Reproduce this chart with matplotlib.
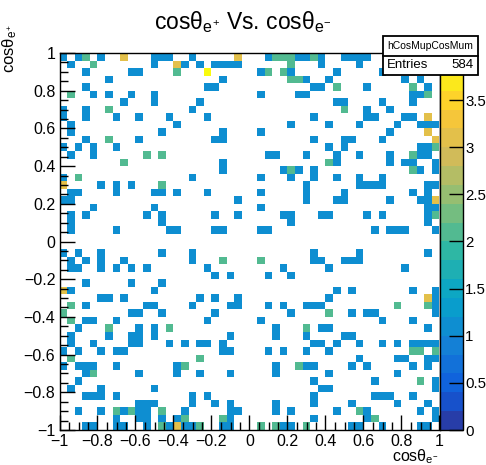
import numpy as np
import matplotlib
matplotlib.use("Agg")
import matplotlib.pyplot as plt
from matplotlib.colors import ListedColormap, BoundaryNorm, LinearSegmentedColormap
from matplotlib.patches import Rectangle
from matplotlib.lines import Line2D
import matplotlib.cm as cm

plt.rcParams['font.family'] = ['Liberation Sans', 'DejaVu Sans']
plt.rcParams['mathtext.fontset'] = 'custom'
plt.rcParams['mathtext.rm'] = 'Liberation Sans'
plt.rcParams['mathtext.it'] = 'Liberation Sans'
plt.rcParams['mathtext.bf'] = 'Liberation Sans:bold'

# ---------------- data ----------------
N_BINS = 50
X_RANGE = (-1.0, 1.0)
Y_RANGE = (-1.0, 1.0)
HIST_NAME = "hCosMupCosMum"
ENTRIES = 584
Z_MAX = 4.0
N_CONTOURS = 20
TITLE = "cosθ$_{e^{+}}$ Vs. cosθ$_{e^{-}}$"
X_TITLE = "cosθ$_{e^{-}}$"
Y_TITLE = "cosθ$_{e^{+}}$"
AXIS_TICKS = [-1, -0.8, -0.6, -0.4, -0.2, 0, 0.2, 0.4, 0.6, 0.8, 1]
AXIS_TICK_LABELS = ["\u22121", "\u22120.8", "\u22120.6", "\u22120.4", "\u22120.2", "0",
                    "0.2", "0.4", "0.6", "0.8", "1"]
Z_TICKS = [0, 0.5, 1, 1.5, 2, 2.5, 3, 3.5]
Z_TICK_LABELS = ["0", "0.5", "1", "1.5", "2", "2.5", "3", "3.5"]

# bin contents, one string per y-row from the top row (y bin 49) down; "xbin:count"
ROWS = [
    "0:1 2:1 3:2 5:1 8:3 12:1 13:1 14:1 17:1 23:3 27:1 28:2 29:2 30:2 31:1 32:1 33:2 34:1 37:1 38:1 39:1 40:1",
    "1:1 4:2 12:1 15:3 16:1 18:1 20:1 21:1 22:1 23:1 30:2 34:1 39:1",
    "3:1 9:1 10:1 15:2 19:4 26:1 27:2 29:2 30:1 36:1 42:1",
    "6:1 21:1 30:2 31:2 32:1 35:1 45:1 47:1",
    "3:1 19:1 20:1 33:1 34:1 36:2 40:1 46:2 48:1",
    "1:2 4:1 6:1 9:1 12:1 26:1 31:1 32:1 46:1 47:1 48:2",
    "8:1 12:1 18:1 36:1 37:1 42:1 46:1",
    "0:1 3:1 6:2 17:1 37:2 40:1 43:1",
    "0:1 3:1 7:1 10:1 14:1 19:1 33:1 40:1 41:1 45:1 46:1 48:3",
    "1:1 15:1 30:1 35:1 39:1 44:1 47:1 48:1 49:1",
    "1:1 13:1 21:1 26:1 43:1 48:3",
    "3:1 6:2 10:1 20:1 21:1 33:1 37:1 38:1 42:1 49:3",
    "0:1 2:1 4:1 7:1 35:1 37:1 47:1 48:1 49:2",
    "1:1 4:1 11:2 13:2 27:1 28:1 32:1 36:1 39:1 43:1 46:2 47:1 48:1",
    "8:2 21:1 35:2 36:1 43:1 45:1 46:1 49:1",
    "21:1 29:1 30:2 31:1 33:1 46:2 47:1 49:1",
    "0:1 2:2 17:1 26:1 30:1 33:1 36:1 39:1 42:1",
    "0:3 5:1 7:1 9:1 13:2 32:1 39:1 40:1 41:1 42:1 48:1 49:1",
    "1:1 2:1 7:1 12:1 13:1 15:1 19:1 26:1 32:1 37:1 46:1 48:1",
    "0:1 1:1 23:1 32:1 36:1 37:1 43:1 47:1 48:1 49:3",
    "4:1 12:1 26:1 48:1 49:1",
    "1:1 3:1 11:1 13:1 20:1 23:1 29:1 30:1 34:1 35:1 40:1 42:1 48:1 49:2",
    "1:1 13:1 30:1 48:1",
    "1:1 7:1 14:1 15:1 20:1 21:1 26:1 27:1 41:1 43:1 44:1 45:1 49:1",
    "",
    "",
    "0:1 2:1 5:1 13:1 17:1 33:1 39:1 48:1",
    "1:1 3:1 5:1 8:1 17:1 21:2 26:2 33:1 34:1 37:1 38:1 39:1",
    "1:1 2:1 5:1 7:1 9:1 11:1 19:1 29:1 35:1 45:1",
    "20:1 22:1 27:1 30:1",
    "3:1 9:1 13:1",
    "0:3 1:1 12:1 36:1 38:1 46:1 49:1",
    "5:1 6:1 8:1 18:1 20:1 23:1 35:1 48:3 49:1",
    "1:2 3:1 11:1 12:1 17:1 22:1 23:1 27:1 29:1 32:1 33:1 34:1 44:2 48:2 49:1",
    "0:2 9:1 10:1 13:1 20:1 30:1 35:2 38:1 40:1 41:1 49:1",
    "1:2 3:1 4:1 7:1 19:1 26:1 42:1 46:1",
    "2:1 6:2 10:1 12:1 14:2 28:1 32:2 34:1 35:1 48:1",
    "1:1 6:1 9:1 10:1 12:1 22:1 28:1 32:1 37:1 38:1",
    "1:1 4:1 9:1 10:1 14:1 16:1 18:1 19:1 21:1 33:1 34:1 36:1 39:1 42:1 44:1 46:1 47:1 48:1 49:1",
    "0:1 2:1 5:1 7:1 8:1 21:1 22:1 27:1 29:1 32:1 35:1 46:2 47:2 49:2",
    "1:2 18:2 39:1 44:1 45:1 48:1 49:1",
    "0:1 2:1 3:1 4:1 7:1 15:1 16:2 28:1 31:2 32:1 33:1 38:1 40:1 46:1 48:1",
    "3:1 4:2 10:1 15:1 18:1 22:1 28:1 35:1 44:1",
    "2:1 33:1 41:1 47:2 49:1",
    "1:1 5:1 12:1 34:1 35:1 49:1",
    "3:1 4:1 5:1 7:1 17:1 19:1 33:1 41:1 42:1 43:1 46:1",
    "10:1 11:1 12:1 17:1 20:1 22:1 28:1 33:1 38:1 44:1 48:1",
    "2:1 5:1 7:2 8:1 9:2 10:1 11:1 13:2 16:1 22:1 23:1 28:1 30:1 36:1 39:2 40:1 47:1 49:1",
    "7:1 10:1 11:1 13:1 15:1 16:2 21:2 22:1 33:1 40:1 41:2 49:1",
    "3:1 4:1 7:1 8:1 11:1 13:2 14:1 15:3 16:1 17:1 18:2 21:1 22:1 26:2 28:2 29:1 30:1 32:2 38:1 39:1 42:1 47:1 48:1",
]

counts = np.zeros((N_BINS, N_BINS))
for j, row in enumerate(ROWS):
    for tok in row.split():
        c, v = tok.split(":")
        counts[N_BINS - 1 - j, int(c)] = float(v)

# ---------------- ROOT kBird palette ----------------
stops = [0.0, 0.125, 0.25, 0.375, 0.5, 0.625, 0.75, 0.875, 1.0]
red = [0.2082, 0.0592, 0.0780, 0.0232, 0.1802, 0.5301, 0.8186, 0.9956, 0.9764]
green = [0.1664, 0.3599, 0.5041, 0.6419, 0.7178, 0.7492, 0.7328, 0.7862, 0.9832]
blue = [0.5293, 0.8684, 0.8385, 0.7914, 0.6425, 0.4662, 0.3499, 0.1968, 0.0539]
bird = LinearSegmentedColormap.from_list(
    "bird", list(zip(stops, zip(red, green, blue))), N=255)
band_colors = [bird(int((i + 0.99) * 255 / N_CONTOURS)) for i in range(N_CONTOURS)]
cmap = ListedColormap(band_colors)
cmap.set_over(band_colors[-1])
bounds = np.arange(N_CONTOURS + 1) * Z_MAX / N_CONTOURS
norm = BoundaryNorm(bounds, N_CONTOURS)

# ---------------- figure ----------------
W, H = 486, 465
fig = plt.figure(figsize=(W / 100, H / 100), dpi=100)

def fx(px):
    return px / W

def fy(py):
    return 1 - py / H

L, R, T, B = 59.5, 439.5, 53.0, 430.0
ax = fig.add_axes([fx(L), fy(B), fx(R - L), (B - T) / H])

xe = np.linspace(X_RANGE[0], X_RANGE[1], N_BINS + 1)
ye = np.linspace(Y_RANGE[0], Y_RANGE[1], N_BINS + 1)
masked = np.ma.masked_where(counts <= 0, counts)
ax.pcolormesh(xe, ye, masked, cmap=cmap, norm=norm, edgecolors='none',
              antialiased=False, zorder=1)
ax.set_xlim(*X_RANGE)
ax.set_ylim(*Y_RANGE)

for sp in ax.spines.values():
    sp.set_linewidth(1.0)
    sp.set_zorder(5)

ax.set_xticks(AXIS_TICKS)
ax.set_xticklabels(AXIS_TICK_LABELS)
ax.set_yticks(AXIS_TICKS)
ax.set_yticklabels(AXIS_TICK_LABELS)
ax.set_xticks(np.arange(-1, 1.0001, 0.05), minor=True)
ax.set_yticks(np.arange(-1, 1.0001, 0.05), minor=True)
ax.tick_params(which='major', direction='in', length=11, width=1.0,
               labelsize=11.5, pad=3, top=False, right=False, zorder=6)
ax.tick_params(which='minor', direction='in', length=5.5, width=1.0,
               top=False, right=False)

# axis titles
fig.text(fx(439), fy(461), X_TITLE, ha='right', va='baseline', fontsize=11.5)
fig.text(fx(10), fy(24), Y_TITLE, ha='center', va='top', rotation=90, fontsize=12)

# title
fig.text(0.5, fy(29), TITLE, ha='center', va='baseline', fontsize=16.5)

# colour bar
cax = fig.add_axes([fx(440), fy(B), fx(463 - 440), (B - T) / H])
sm = cm.ScalarMappable(norm=norm, cmap=cmap)
cb = fig.colorbar(sm, cax=cax, ticks=Z_TICKS)
cb.ax.set_yticklabels(Z_TICK_LABELS)
cb.ax.set_ylim(0, Z_MAX)
cb.outline.set_linewidth(1.0)
cb.ax.tick_params(direction='in', length=10, width=1.0, labelsize=10.8, pad=1.5)
cb.ax.minorticks_off()

# stats box
bx0, bx1, by0, by1, bmid = 383, 478, 36, 75, 56
fig.patches.append(Rectangle((fx(bx0), fy(by1)), fx(bx1 - bx0), (by1 - by0) / H,
                             transform=fig.transFigure, facecolor='white',
                             edgecolor='black', linewidth=1.3, zorder=10))
fig.lines.append(Line2D([fx(bx0), fx(bx1)], [fy(bmid), fy(bmid)],
                        transform=fig.transFigure, color='black', linewidth=1.3,
                        zorder=11))
fig.text(fx((bx0 + bx1) / 2), fy((by0 + bmid) / 2), HIST_NAME, ha='center',
         va='center', fontsize=7.5, zorder=12)
fig.text(fx(bx0 + 4), fy((bmid + by1) / 2), "Entries", ha='left', va='center',
         fontsize=9.5, zorder=12)
fig.text(fx(bx1 - 4), fy((bmid + by1) / 2), str(ENTRIES), ha='right', va='center',
         fontsize=9.5, zorder=12)

fig.savefig("out.png", dpi=100)
